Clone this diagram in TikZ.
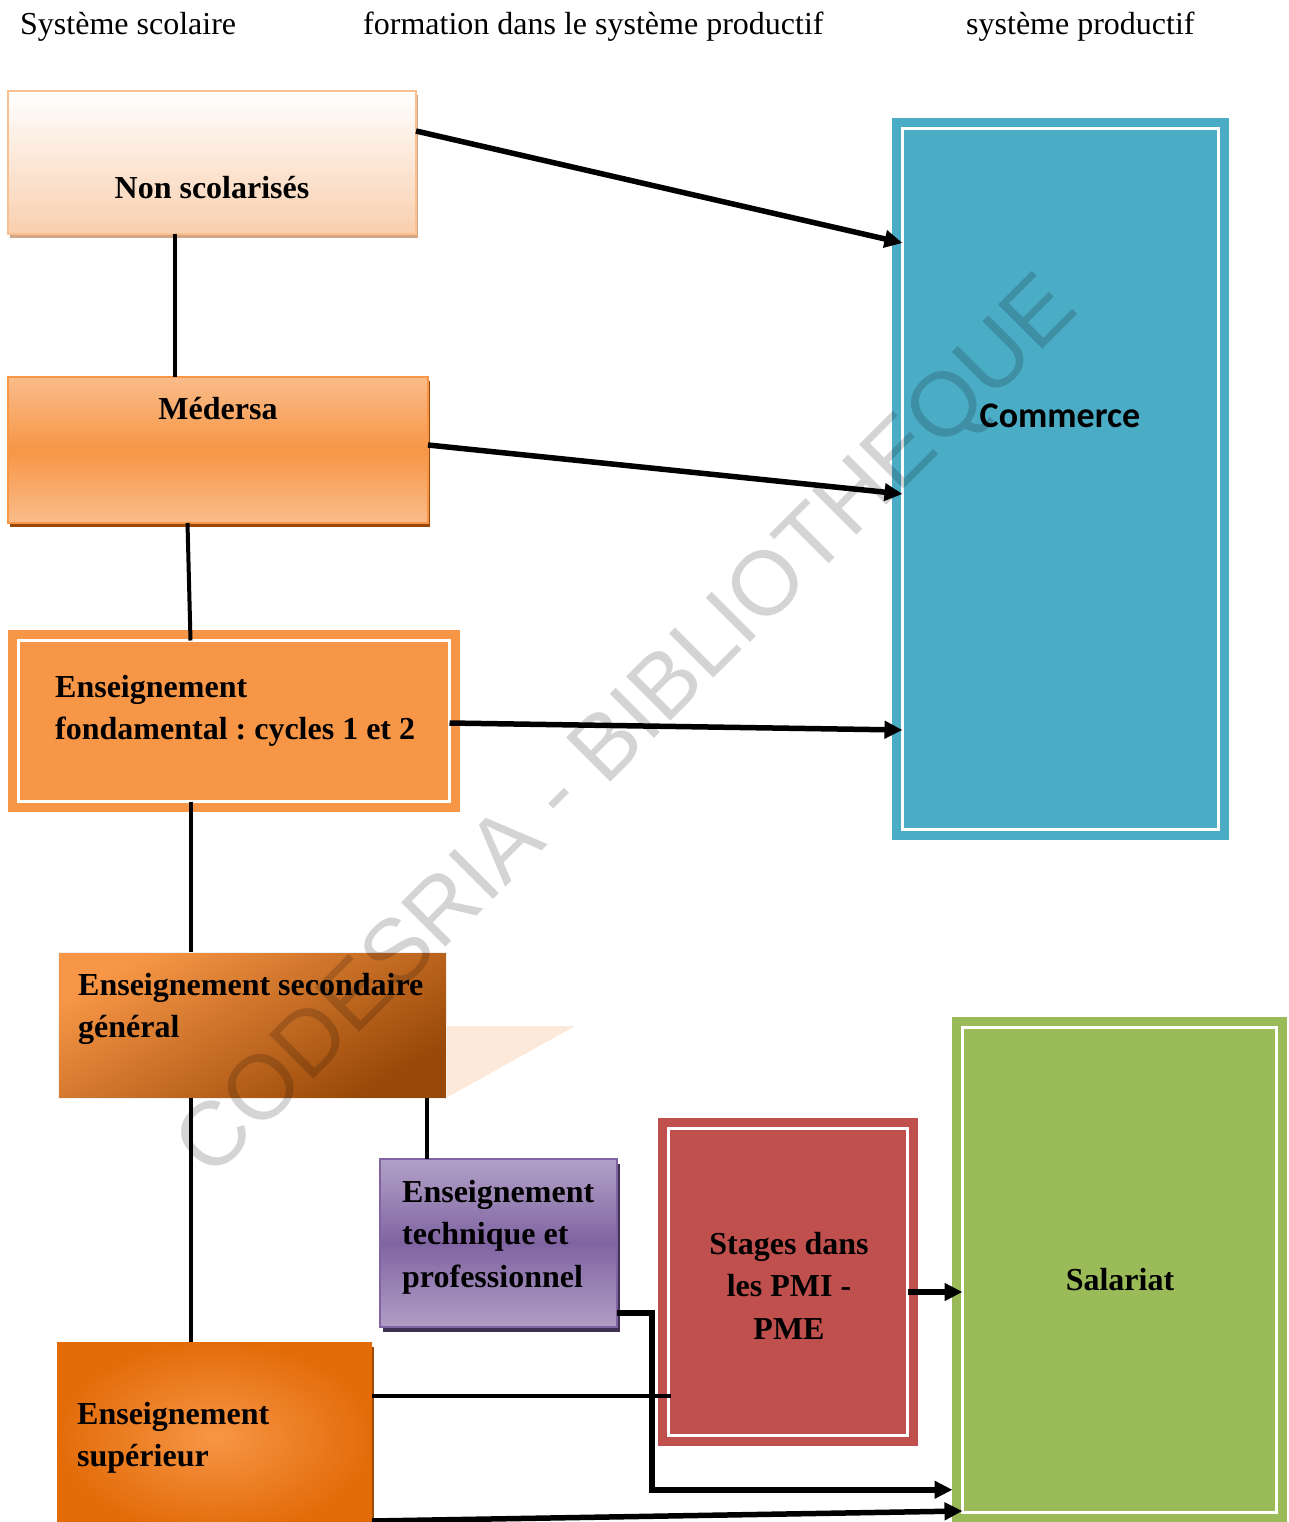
\documentclass[tikz,border=0pt]{standalone}
\usepackage{fontspec}
\setmainfont{Liberation Serif}
\newfontfamily\carlito{Carlito}
\newfontfamily\wmfont{Liberation Sans}
\usetikzlibrary{arrows.meta,shadows}
\frenchspacing

\definecolor{peach}{HTML}{F9CFAE}
\definecolor{peachline}{HTML}{FAC08F}
\definecolor{orangeA}{HTML}{F79646}
\definecolor{orangeL}{HTML}{F9BC8A}
\definecolor{orangeD}{HTML}{E36C09}
\definecolor{brownA}{HTML}{984807}
\definecolor{tanA}{HTML}{D2A584}
\definecolor{purpleA}{HTML}{8064A2}
\definecolor{purpleL}{HTML}{B2A1C7}
\definecolor{purpleD}{HTML}{3F3151}
\definecolor{redA}{HTML}{C0504D}
\definecolor{blueA}{HTML}{4BACC6}
\definecolor{greenA}{HTML}{9BBB59}
\definecolor{ghost}{HTML}{FDE9D9}

\begin{document}
\begin{tikzpicture}[x=1pt,y=-1pt,
    box/.style={rectangle, inner sep=0pt, outer sep=0pt},
    dbox/.style={box, line width=9pt, double=white, double distance=3pt},
    lbl/.style={font=\fontsize{32}{42.5}\selectfont\bfseries, inner sep=0pt},
    hdr/.style={font=\fontsize{32}{38}\selectfont, inner sep=0pt, anchor=base west},
    link/.style={line width=4pt},
    arr/.style={line width=5.5pt, -{Triangle[length=18pt,width=17pt]}}]
    \useasboundingbox (0,0) rectangle (1289,1522);

    \node[hdr] (hdrscol) at (20,35) {Système scolaire};
    \node[hdr] (hdrform) at (363,35) {formation dans le système productif};
    \node[hdr] (hdrprod) at (966,35) {système productif};

    \node[box, minimum width=408pt, minimum height=143pt, draw=peachline, line width=2.5pt,
          top color=white, bottom color=peach,
          drop shadow={opacity=1, fill=tanA, shadow xshift=2pt, shadow yshift=-4.5pt}]
          (nonscol) at (212,162.5) {};
    \node[lbl, anchor=base] (nonscoltxt) at (212,199) {Non scolarisés};

    \node[box, minimum width=420pt, minimum height=146pt, draw=orangeA, line width=2.5pt,
          top color=orangeL, bottom color=orangeL, middle color=orangeA,
          drop shadow={opacity=1, fill=brownA, shadow xshift=2pt, shadow yshift=-4pt}]
          (medersa) at (218,450) {};
    \node[lbl, anchor=base] (medersatxt) at (218,419) {Médersa};

    \node[dbox, minimum width=431pt, minimum height=161pt, draw=orangeA, fill=orangeA]
          (fond) at (234,721) {};
    \node[lbl, anchor=north west, align=left] (fondtxt) at (55,675)
          {Enseignement\\fondamental : cycles 1 et 2};

    \fill[ghost] (446,1026) -- (575,1026) -- (446,1098) -- cycle;
    \node[box, minimum width=388pt, minimum height=146pt, draw=black!6, line width=1pt,
          top color=orangeA, bottom color=brownA, shading angle=30]
          (second) at (252,1025) {};
    \node[lbl, anchor=north west, align=left] (secondtxt) at (78,973)
          {Enseignement secondaire\\général};

    \node[box, minimum width=237pt, minimum height=168pt, draw=purpleA, line width=2.5pt,
          top color=purpleL, bottom color=purpleL!95!purpleA, middle color=purpleA,
          drop shadow={opacity=1, fill=purpleD, shadow xshift=3pt, shadow yshift=-4.5pt}]
          (tech) at (498.5,1243) {};
    \node[lbl, anchor=north west, align=left] (techtxt) at (402,1180)
          {Enseignement\\technique et\\professionnel};

    \node[box, minimum width=315pt, minimum height=190pt, inner color=orangeA, outer color=orangeD,
          drop shadow={opacity=1, fill=brownA, shadow xshift=1.5pt, shadow yshift=-5pt}]
          (sup) at (214.5,1437) {};
    \node[lbl, anchor=north west, align=left] (suptxt) at (77,1402)
          {Enseignement\\supérieur};

    \node[dbox, minimum width=239pt, minimum height=307pt, draw=redA, fill=redA]
          (stages) at (788,1282) {};
    \node[lbl, anchor=north, align=center] (stagestxt) at (789,1232)
          {Stages dans\\les PMI -\\PME};

    \node[dbox, minimum width=316pt, minimum height=701pt, draw=blueA, fill=blueA]
          (commerce) at (1060.5,479) {};
    \node[font=\carlito\fontsize{36}{40}\selectfont\bfseries, inner sep=0pt, anchor=base]
          (commercetxt) at (1060,427) {Commerce};

    \node[dbox, minimum width=314pt, minimum height=484.5pt, draw=greenA, fill=greenA]
          (salariat) at (1119.5,1269.75) {};
    \node[lbl, anchor=base] (salariattxt) at (1120,1290) {Salariat};

    \draw[link] ([xshift=-37pt]nonscol.south) -- ([xshift=-43pt]medersa.north);
    \draw[link] ([xshift=-30.5pt]medersa.south) -- ([xshift=-43.5pt]fond.north);
    \draw[link] ([xshift=-43.5pt]fond.south) -- ([xshift=-61.5pt]second.north);
    \draw[link] ([xshift=-61.5pt]second.south) -- ([xshift=-24pt]sup.north);
    \draw[link] ([xshift=175pt]second.south) -- ([xshift=-71.5pt]tech.north);
    \draw[link] ([yshift=41.5pt]sup.east) -- ([xshift=2.5pt,yshift=-113.5pt]stages.west);

    \draw[arr] ([yshift=31.5pt]nonscol.east) -- ([yshift=236pt]commerce.west);
    \draw[arr] ([yshift=5pt]medersa.east) -- ([yshift=-15pt]commerce.west);
    \draw[arr] ([yshift=-2pt]fond.east) -- ([yshift=-251pt]commerce.west);
    \draw[arr] ([yshift=-10pt]stages.east) -- ([yshift=-22.25pt]salariat.west);
    \draw[arr] ([yshift=-70pt]tech.east) -- ++(35,0) |- ([xshift=-10pt,yshift=-220pt]salariat.west);
    \draw[arr] ([yshift=-84pt]sup.east) -- ([yshift=-241.25pt]salariat.west);

    \node[font=\wmfont\fontsize{91}{91}\selectfont, text=black, opacity=0.17, rotate=45, inner sep=0pt]
          (wm) at (630,730) {CODESRIA - BIBLIOTHEQUE};
\end{tikzpicture}
\end{document}
